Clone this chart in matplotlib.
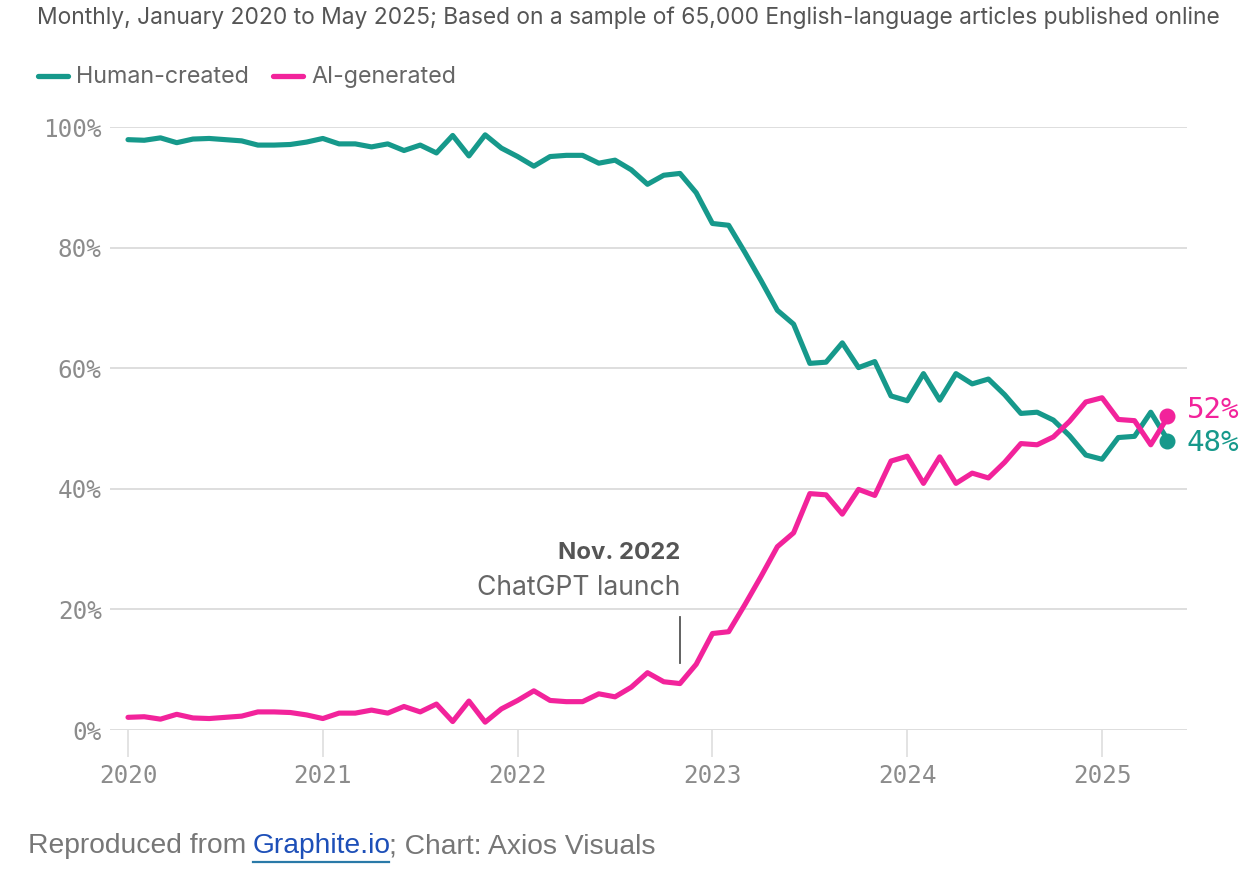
import matplotlib
matplotlib.use("Agg")
import matplotlib.pyplot as plt
import numpy as np
import pandas as pd
from matplotlib.lines import Line2D

# ---------------- data ----------------
months = pd.date_range("2020-01-01", "2025-05-01", freq="MS")
human = [
    97.9, 97.8, 98.2, 97.4, 98.0, 98.1, 97.9, 97.7, 97.0, 97.0, 97.1, 97.5,
    98.1, 97.2, 97.2, 96.7, 97.2, 96.1, 97.0, 95.7, 98.6, 95.2, 98.7, 96.5,
    95.1, 93.5, 95.1, 95.3, 95.3, 94.0, 94.5, 92.9, 90.5, 92.0, 92.3, 89.1,
    84.0, 83.7, 79.2, 74.5, 69.6, 67.3, 60.8, 61.0, 64.2, 60.1, 61.1, 55.4,
    54.6, 59.1, 54.7, 59.1, 57.4, 58.2, 55.6, 52.5, 52.7, 51.4, 48.8, 45.6,
    44.9, 48.5, 48.7, 52.7, 48.3,
]
ai = [
    2.1, 2.2, 1.8, 2.6, 2.0, 1.9, 2.1, 2.3, 3.0, 3.0, 2.9, 2.5,
    1.9, 2.8, 2.8, 3.3, 2.8, 3.9, 3.0, 4.3, 1.4, 4.8, 1.3, 3.5,
    4.9, 6.5, 4.9, 4.7, 4.7, 6.0, 5.5, 7.1, 9.5, 8.0, 7.7, 10.9,
    16.0, 16.3, 20.8, 25.5, 30.4, 32.7, 39.2, 39.0, 35.8, 39.9, 38.9, 44.6,
    45.4, 40.9, 45.3, 40.9, 42.6, 41.8, 44.4, 47.5, 47.3, 48.6, 51.2, 54.4,
    55.1, 51.5, 51.3, 47.3, 51.7,
]
series_names = ["Human-created", "AI-generated"]
end_labels = ["48%", "52%"]
end_values = [48, 52]
year_ticks = ["2020", "2021", "2022", "2023", "2024", "2025"]
y_ticks = [0, 20, 40, 60, 80, 100]
y_tick_labels = ["0%", "20%", "40%", "60%", "80%", "100%"]
annot_month = "2022-11-01"
annot_title = "Nov. 2022"
annot_text = "ChatGPT launch"
title = ("Monthly, January 2020 to May 2025; Based on a sample of 65,000 "
         "English-language articles published online")

TEAL = "#16998b"
PINK = "#f2239b"
GRID = "#dedede"
TICKC = "#8c8c8c"

W, H = 1248, 880
fig = plt.figure(figsize=(W / 100, H / 100), dpi=100)
fig.patch.set_facecolor("white")

def fx(px):
    return px / W

def fy(py):
    return 1 - py / H

# axes: x from 110 to 1187 px, y from 127 (100%) to 730 (0%)
ax = fig.add_axes([fx(110), fy(730), (1187 - 110) / W, (730 - 127) / H])
x = np.arange(len(months))
mpp = 16.23  # pixels per month
ax.set_xlim(-(128 - 110) / mpp, (len(months) - 1) + (1187 - 1167) / mpp)
ax.set_ylim(0, 100)
for s in ax.spines.values():
    s.set_visible(False)

for yv in y_ticks:
    ax.axhline(yv, color=GRID, lw=1.4, zorder=0)

ax.set_yticks(y_ticks)
ax.set_yticklabels(y_tick_labels)
year_pos = [list(months.year).index(int(y)) for y in year_ticks]
ax.set_xticks(year_pos)
ax.set_xticklabels(year_ticks)
ax.tick_params(axis="y", length=0, pad=6, labelsize=17.5, labelcolor=TICKC)
ax.tick_params(axis="x", length=19.5, width=1.2, color=GRID, pad=5,
               labelsize=17.5, labelcolor=TICKC)
for lab in ax.get_xticklabels() + ax.get_yticklabels():
    lab.set_fontfamily("DejaVu Sans Mono")

ax.plot(x, human, color=TEAL, lw=3.7, solid_joinstyle="round",
        solid_capstyle="round", clip_on=False, zorder=3)
ax.plot(x, ai, color=PINK, lw=3.7, solid_joinstyle="round",
        solid_capstyle="round", clip_on=False, zorder=4)

# end dots and labels
last = x[-1]
ax.plot([last], [end_values[0]], "o", color=TEAL, ms=10.5, clip_on=False, zorder=5)
ax.plot([last], [end_values[1]], "o", color=PINK, ms=10.5, clip_on=False, zorder=6)
lab_x = last + (1187 - 1167) / mpp
ax.text(lab_x, 47.6, end_labels[0], color=TEAL, fontsize=21,
        family="DejaVu Sans Mono", ha="left", va="center", clip_on=False)
ax.text(lab_x, 53.1, end_labels[1], color=PINK, fontsize=21,
        family="DejaVu Sans Mono", ha="left", va="center", clip_on=False)

# annotation
ai_x = list(months).index(pd.Timestamp(annot_month))
ax.plot([ai_x, ai_x], [(730 - 663) / 6.03, (730 - 617) / 6.03],
        color="#555555", lw=1.3, clip_on=False, zorder=2)
t_a1 = ax.text(ai_x, (730 - 553) / 6.03, annot_title, ha="right", va="center",
               fontsize=17, fontweight="bold", color="#555555", family="Inter")
t_a2 = ax.text(ai_x, (730 - 588) / 6.03, annot_text, ha="right", va="center",
               fontsize=17, color="#666666", family="Inter")

renderer = fig.canvas.get_renderer()

def fit(t, target_w):
    w = t.get_window_extent(renderer).width
    t.set_fontsize(t.get_fontsize() * target_w / w)

fit(t_a1, 679 - 557)
fit(t_a2, 679 - 475)

# title
t_title = fig.text(fx(37), fy(18), title, ha="left", va="center",
                   fontsize=15, color="#555555", family="Inter")
fit(t_title, 1224 - 37)

# legend
lx = [(38, 68, 76, 250), (273, 303, 311, 457)]
for (a, b, tx, te), col, name in zip(lx, [TEAL, PINK], series_names):
    fig.add_artist(Line2D([fx(a), fx(b)], [fy(76), fy(76)], color=col, lw=3.8,
                          solid_capstyle="round", transform=fig.transFigure))
    tl = fig.text(fx(tx), fy(77), name, ha="left", va="center", fontsize=16,
                  color="#666666", family="Inter")
    fit(tl, te - tx)

# footer
f1 = fig.text(fx(28), fy(846), "Reproduced from", ha="left", va="center",
              fontsize=19, color="#777777", family="Liberation Sans")
fit(f1, 246 - 28)
fs = f1.get_fontsize()
f2 = fig.text(fx(253), fy(846), "Graphite.io", ha="left", va="center",
              fontsize=fs, color="#1d4fb8", family="Liberation Sans")
f3 = fig.text(fx(389), fy(846), "; Chart: Axios Visuals", ha="left", va="center",
              fontsize=fs, color="#777777", family="Liberation Sans")
fig.add_artist(Line2D([fx(253), fx(389)], [fy(862), fy(862)], color="#2a7aa8",
                      lw=1.6, transform=fig.transFigure))

fig.savefig("out.png", dpi=100, facecolor="white")
